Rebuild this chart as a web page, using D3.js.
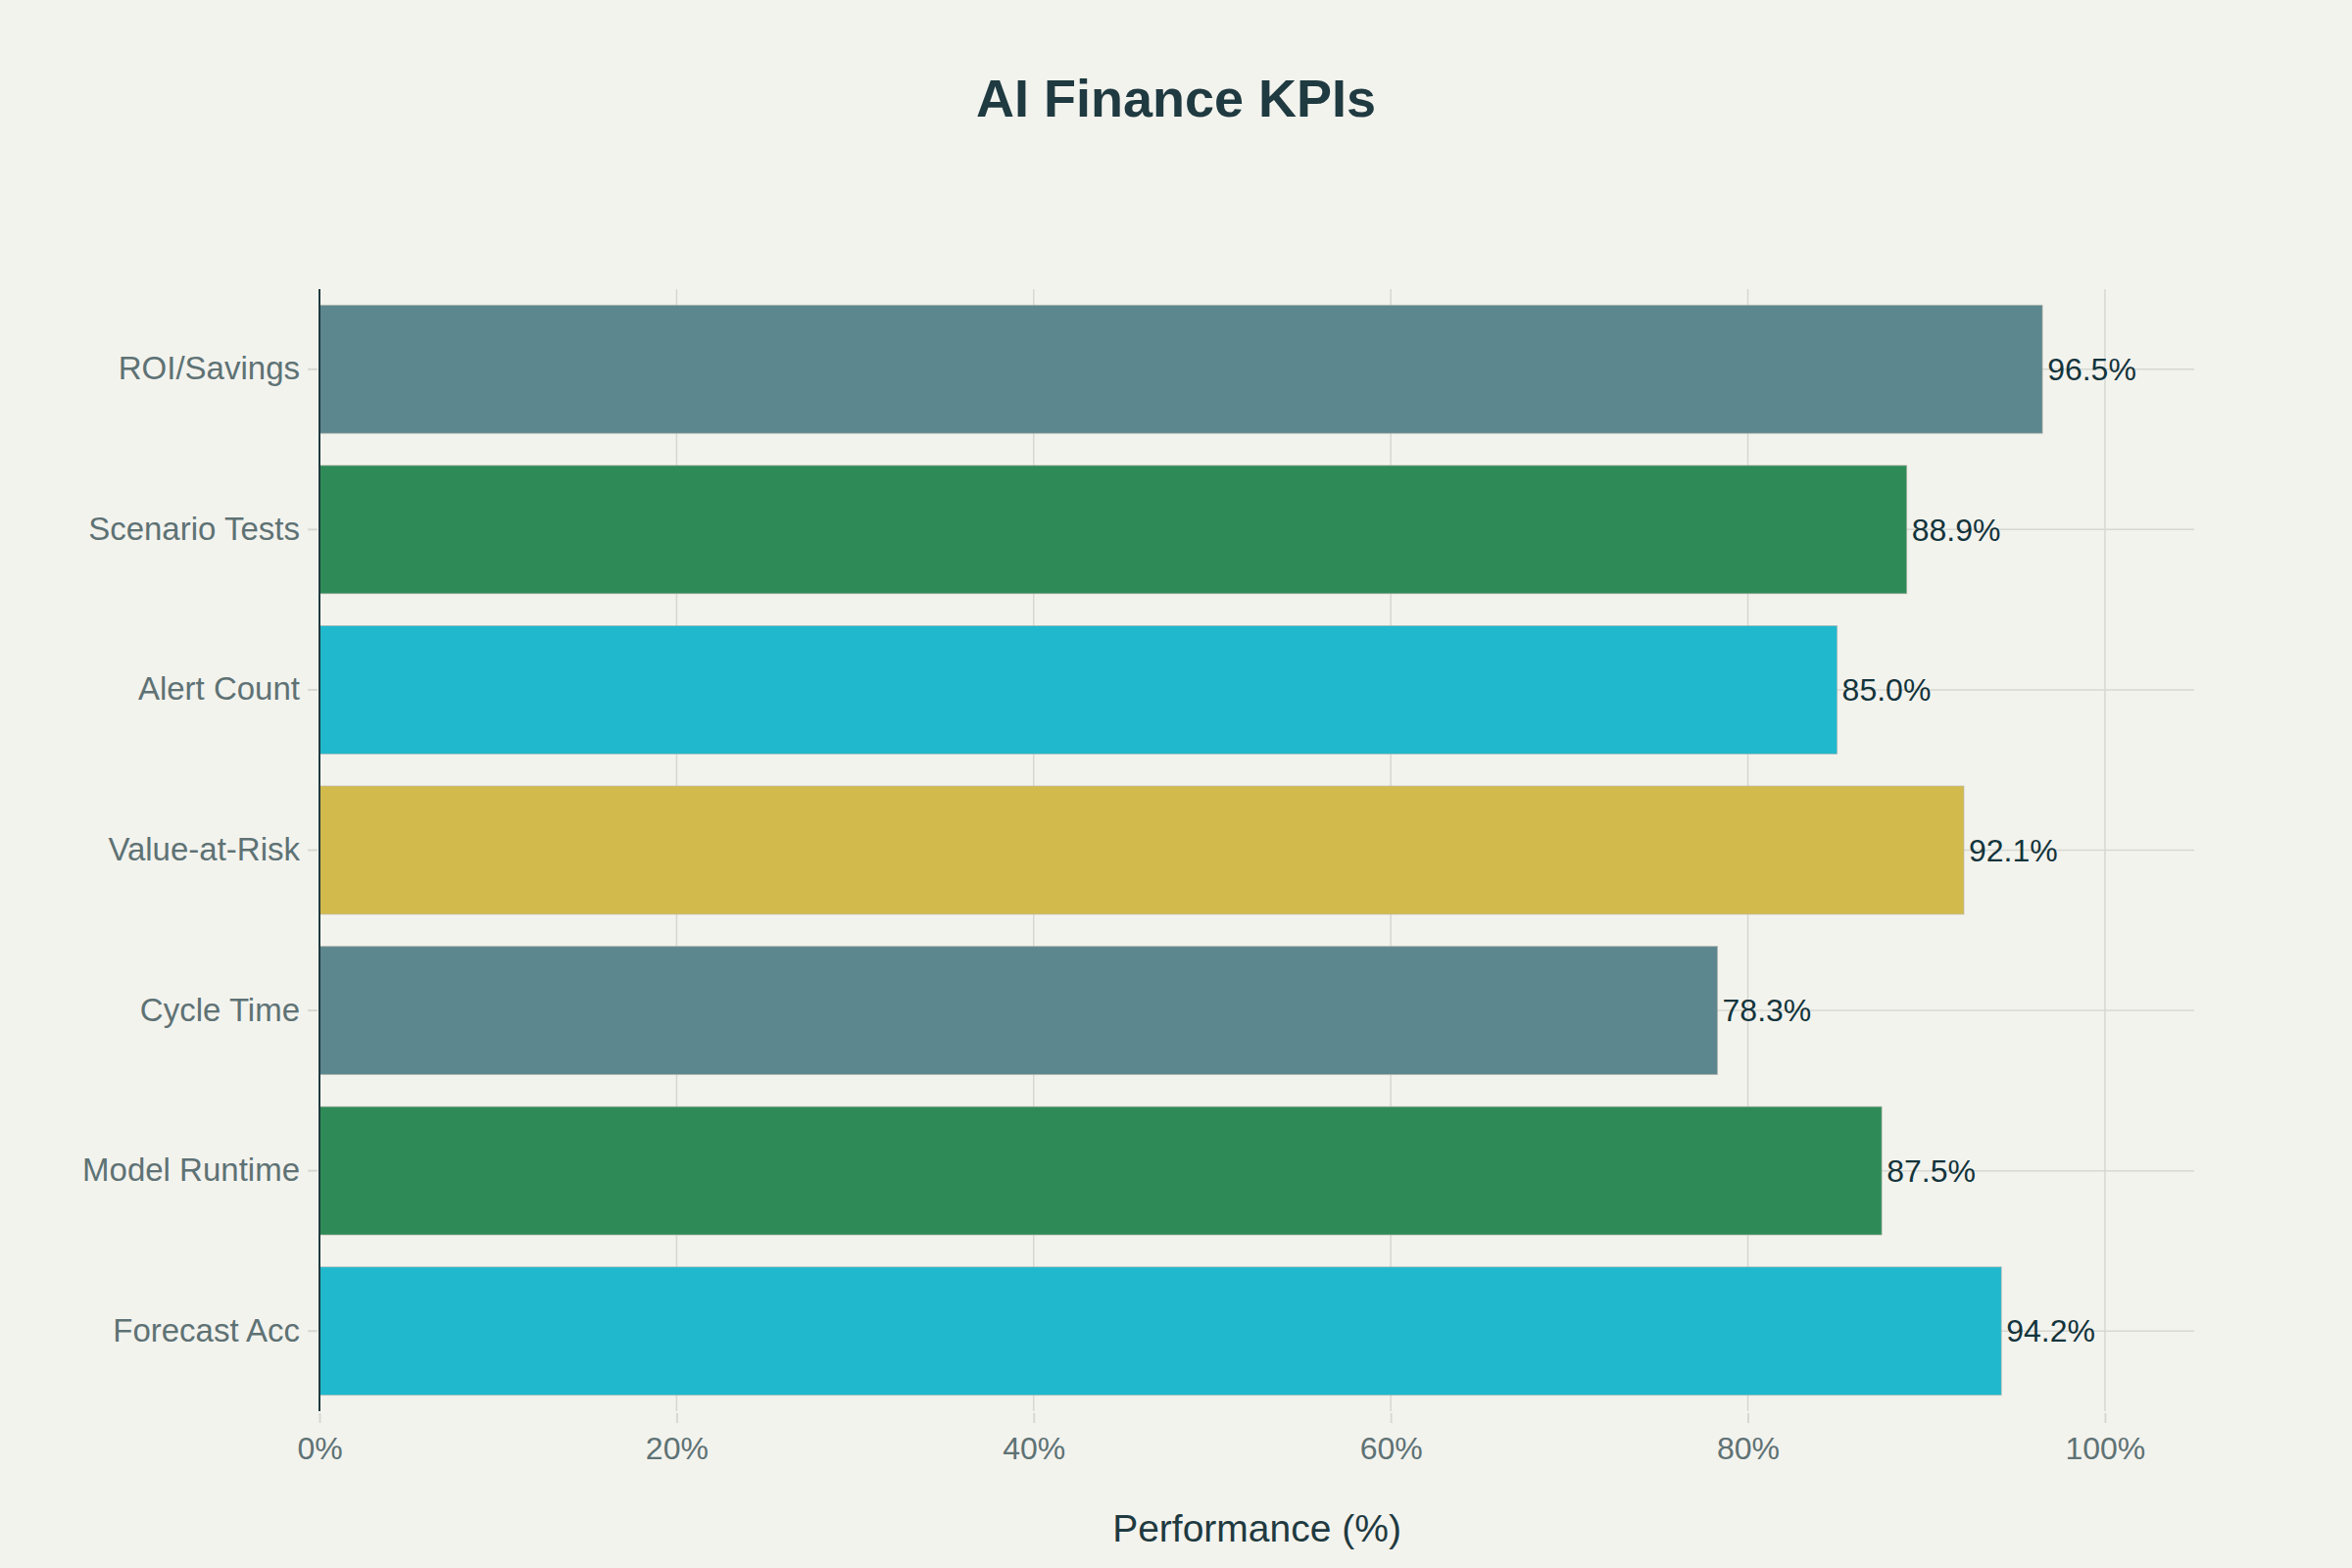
<!DOCTYPE html>
<html>
<head>
<meta charset="utf-8">
<script src="https://cdn.jsdelivr.net/npm/d3@7"></script>
<style>
  html, body { margin: 0; padding: 0; background: #F3F3EE; }
  svg { display: block; font-family: "Liberation Sans", Arial, sans-serif; }
</style>
</head>
<body>
<svg id="chart" width="2400" height="1600"></svg>
<script>
// data, bottom to top as in the picture
const categories = ['Forecast Acc', 'Model Runtime', 'Cycle Time', 'Value-at-Risk', 'Alert Count', 'Scenario Tests', 'ROI/Savings'];
const values = [94.2, 87.5, 78.3, 92.1, 85.0, 88.9, 96.5];
const palette = ['#1FB8CD', '#2E8B57', '#5D878F', '#D2BA4C'];
const xTicks = [0, 20, 40, 60, 80, 100];

const W = 2400, H = 1600;
const margin = { top: 295, right: 161, bottom: 160, left: 326 };

const svg = d3.select('#chart');
svg.append('rect').attr('width', W).attr('height', H).attr('fill', '#F3F3EE');

const x = d3.scaleLinear().domain([0, 105]).range([margin.left, W - margin.right]);
const y = d3.scaleBand()
    .domain(categories.slice().reverse())
    .range([margin.top, H - margin.bottom])
    .paddingInner(0.2)
    .paddingOuter(0.1);

const rows = categories.map((c, i) => ({ name: c, value: values[i], color: palette[i % palette.length] }));

// grid
const grid = svg.append('g');
grid.selectAll('.vgrid').data(xTicks.filter(d => d > 0)).join('line')
    .attr('x1', d => x(d)).attr('x2', d => x(d))
    .attr('y1', margin.top).attr('y2', H - margin.bottom)
    .attr('stroke', '#D8D8D2').attr('stroke-width', 1.5);
grid.selectAll('.hgrid').data(categories).join('line')
    .attr('x1', margin.left).attr('x2', W - margin.right)
    .attr('y1', d => y(d) + y.bandwidth() / 2).attr('y2', d => y(d) + y.bandwidth() / 2)
    .attr('stroke', '#D8D8D2').attr('stroke-width', 1.5);

// bars
svg.append('g').selectAll('rect').data(rows).join('rect')
    .attr('x', x(0))
    .attr('y', d => y(d.name))
    .attr('width', d => x(d.value) - x(0))
    .attr('height', y.bandwidth())
    .attr('fill', d => d.color)
    .attr('stroke', 'rgba(180,180,170,0.6)')
    .attr('stroke-width', 1);

// value labels
svg.append('g').selectAll('text').data(rows).join('text')
    .attr('x', d => x(d.value) + 5)
    .attr('y', d => y(d.name) + y.bandwidth() / 2)
    .attr('dy', '0.35em')
    .attr('font-size', 32)
    .attr('fill', '#13343B')
    .text(d => d.value.toFixed(1) + '%');

// y axis
const yAxis = svg.append('g')
    .attr('transform', `translate(${margin.left - 2},0)`)
    .call(d3.axisLeft(y).tickSize(10).tickPadding(8));
yAxis.select('.domain').remove();
yAxis.selectAll('.tick line').attr('stroke', '#D8D8D2').attr('stroke-width', 2);
yAxis.selectAll('.tick text').attr('font-size', 33).attr('fill', '#5E7274')
    .attr('font-family', '"Liberation Sans", Arial, sans-serif');

svg.append('line')
    .attr('x1', margin.left).attr('x2', margin.left)
    .attr('y1', margin.top).attr('y2', H - margin.bottom)
    .attr('stroke', '#1F3A40').attr('stroke-width', 2);

// x axis
const xAxis = svg.append('g')
    .attr('transform', `translate(0,${H - margin.bottom + 2})`)
    .call(d3.axisBottom(x).tickValues(xTicks).tickSize(10).tickPadding(14).tickFormat(d => d + '%'));
xAxis.select('.domain').remove();
xAxis.selectAll('.tick line').attr('stroke', '#D8D8D2').attr('stroke-width', 2);
xAxis.selectAll('.tick text').attr('font-size', 32).attr('fill', '#5E7274')
    .attr('font-family', '"Liberation Sans", Arial, sans-serif');

// axis title
svg.append('text')
    .attr('x', (margin.left + W - margin.right) / 2)
    .attr('y', 1573)
    .attr('text-anchor', 'middle')
    .attr('font-size', 39)
    .attr('fill', '#1F3A40')
    .text('Performance (%)');

// title
svg.append('text')
    .attr('x', W / 2)
    .attr('y', 119)
    .attr('text-anchor', 'middle')
    .attr('font-size', 54)
    .attr('font-weight', 'bold')
    .attr('fill', '#1F3A40')
    .text('AI Finance KPIs');
</script>
</body>
</html>
